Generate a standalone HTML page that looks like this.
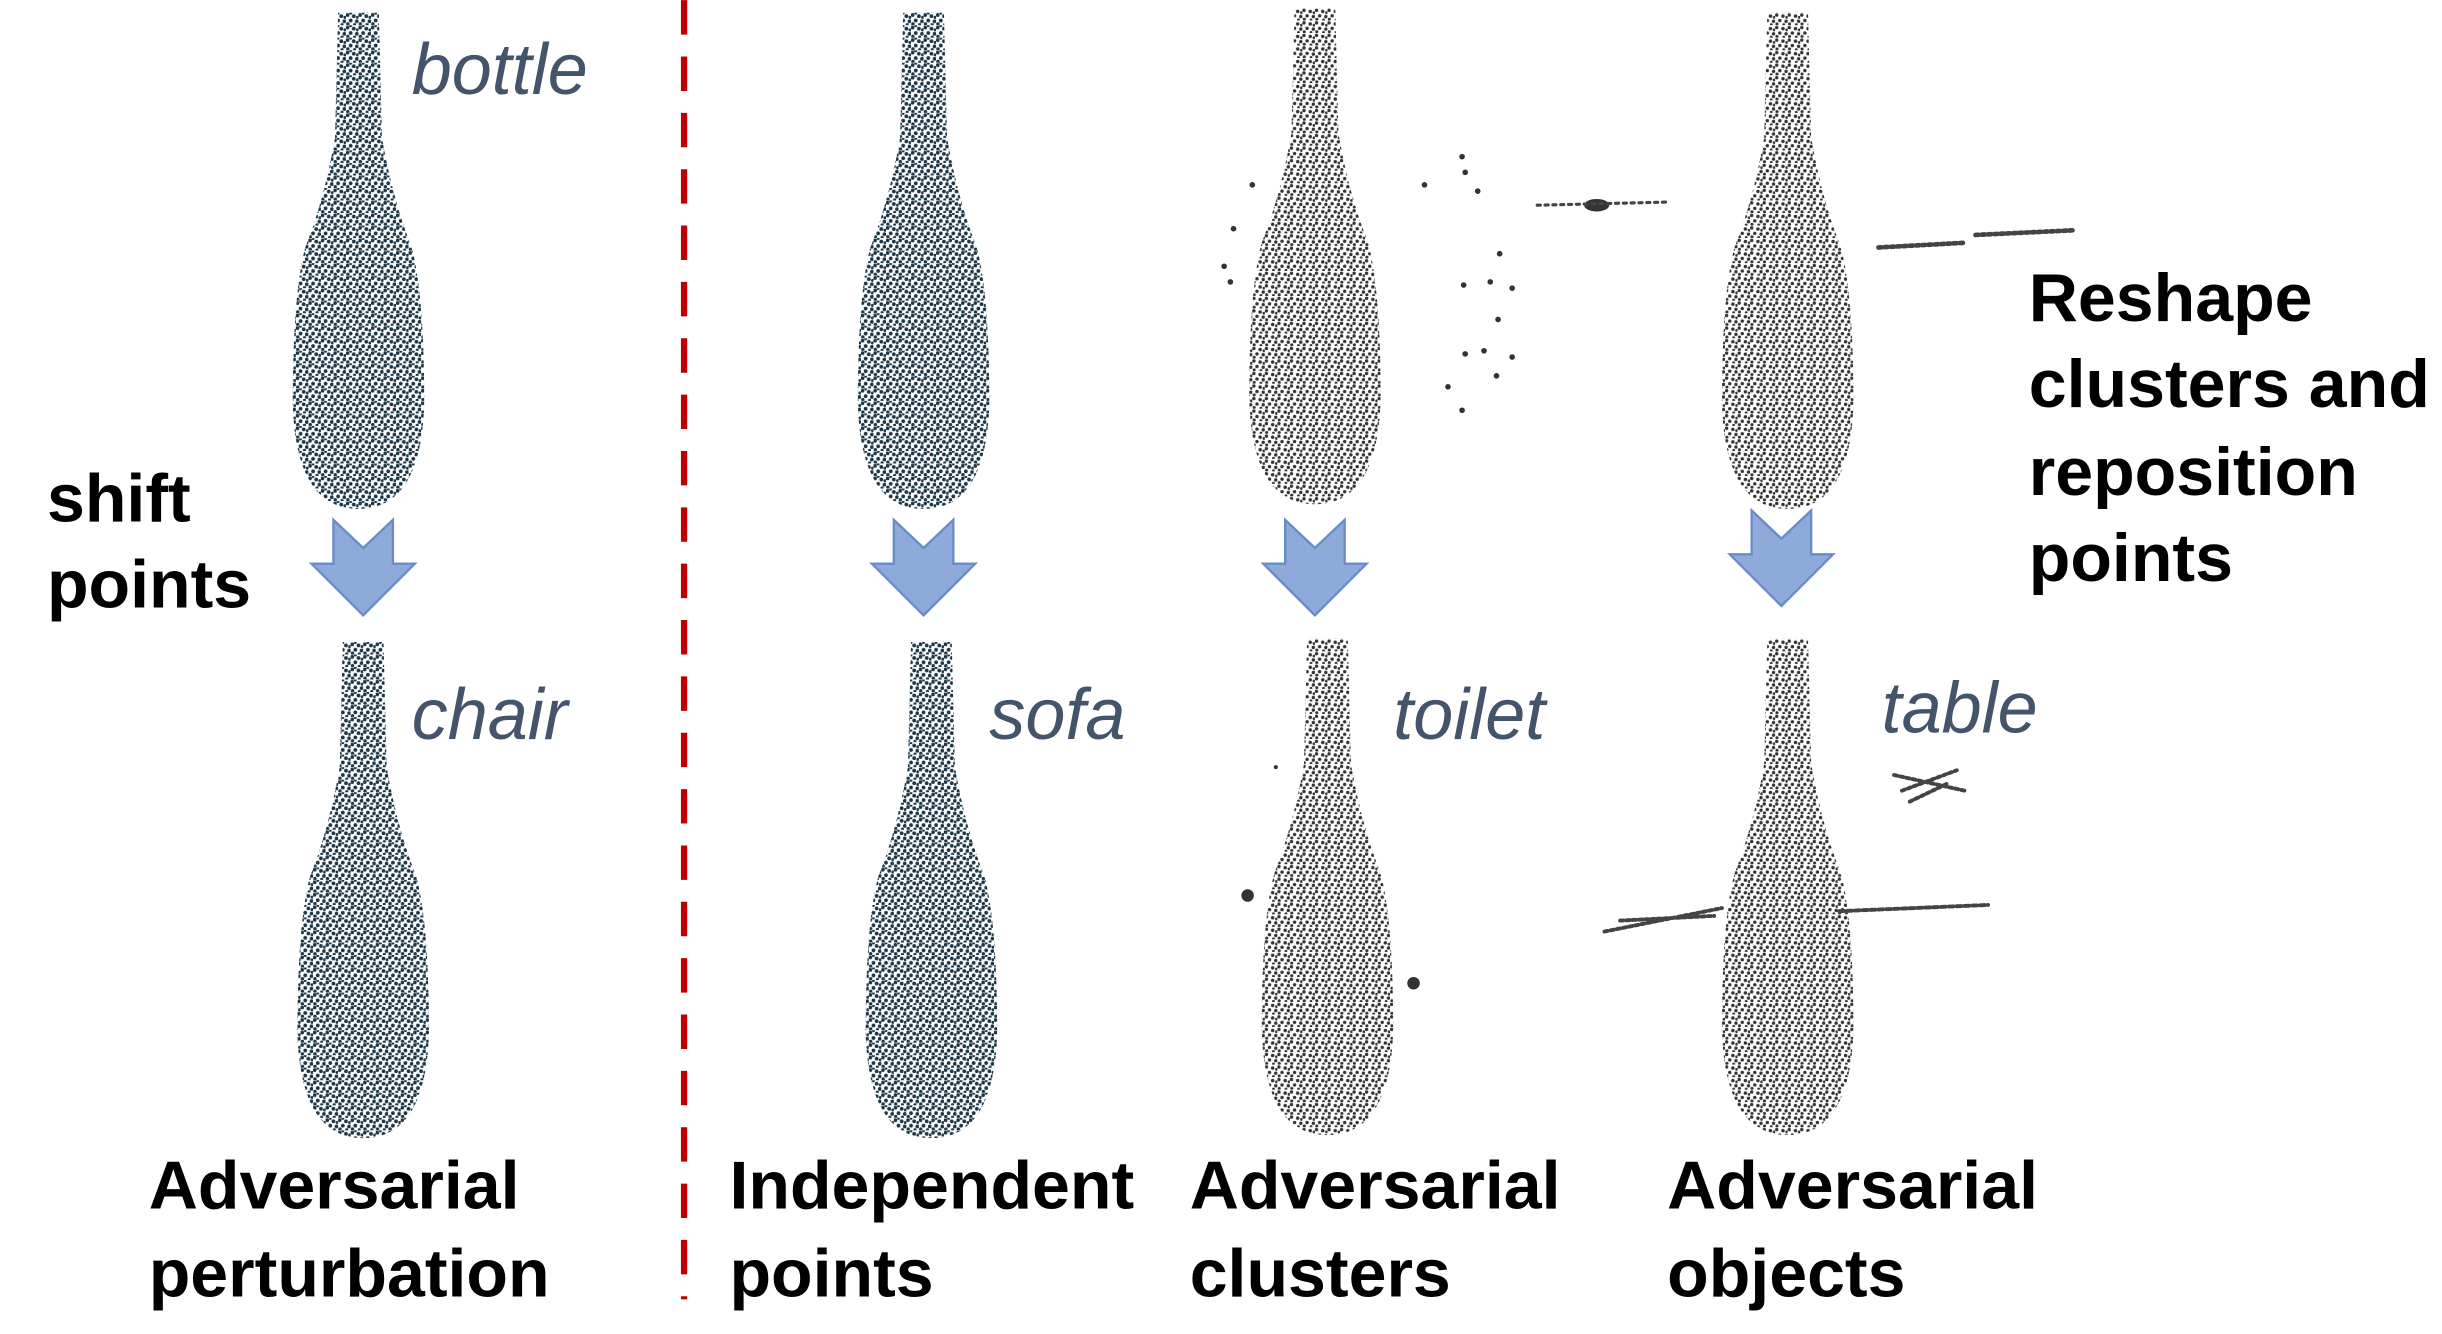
<!DOCTYPE html>
<html><head><meta charset="utf-8"><style>
html,body{margin:0;padding:0;background:#fff;}
svg{display:block;}
.lab{font-family:"Liberation Sans",sans-serif;font-style:italic;font-size:46px;fill:#44546a;}
.t{font-family:"Liberation Sans",sans-serif;font-weight:bold;font-size:43.5px;fill:#000;}
</style></head><body>
<svg width="2442" height="1334" viewBox="0 0 1560 852" xmlns="http://www.w3.org/2000/svg">
<defs>
<pattern id="pd" width="8" height="8" patternUnits="userSpaceOnUse">
<rect width="8" height="8" fill="#fff"/>
<circle cx="1" cy="1.5" r="1.2" fill="#1b3646"/><circle cx="5" cy="2.2" r="1.2" fill="#1b3646"/>
<circle cx="3" cy="5" r="1.2" fill="#1b3646"/><circle cx="7" cy="5.5" r="1.2" fill="#1b3646"/>
<circle cx="1.2" cy="7.2" r="1.1" fill="#1b3646"/><circle cx="5.5" cy="7.6" r="1" fill="#1b3646"/>
<circle cx="7.4" cy="3" r="1" fill="#1b3646"/><circle cx="3" cy="0.4" r="0.9" fill="#1b3646"/>
</pattern>
<pattern id="pg" width="8" height="8" patternUnits="userSpaceOnUse">
<rect width="8" height="8" fill="#fff"/>
<circle cx="1" cy="1.5" r="1.1" fill="#333"/><circle cx="5" cy="2.2" r="1.1" fill="#333"/>
<circle cx="3" cy="5" r="1.1" fill="#333"/><circle cx="7" cy="5.5" r="1.1" fill="#333"/>
<circle cx="1.2" cy="7.2" r="1" fill="#333"/><circle cx="5.5" cy="7.6" r="0.9" fill="#333"/>
<circle cx="7.4" cy="3" r="0.9" fill="#333"/>
</pattern>
<path id="b" d="M -13 0 L 13 0 L 15 80 Q 22 120 34 150 Q 42 180 42 250 Q 40 317 0 317 Q -40 317 -42 250 Q -42 180 -34 150 Q -22 120 -15 80 Z"/>
<path id="ar" d="M -19 0 L 0 18 L 19 0 L 19 28 L 33 28 L 0 61 L -33 28 L -19 28 Z" fill="#8eaadb" stroke="#6a8cc6" stroke-width="1.5"/>
</defs>
<line x1="437" y1="0" x2="437" y2="830" stroke="#c00000" stroke-width="4" stroke-dasharray="22,14"/>
<use href="#b" x="229" y="8" fill="url(#pd)"/>
<use href="#b" x="590" y="8" fill="url(#pd)"/>
<use href="#b" x="840" y="5" fill="url(#pg)"/>
<use href="#b" x="1142" y="8" fill="url(#pg)"/>
<use href="#b" x="232" y="410" fill="url(#pd)"/>
<use href="#b" x="595" y="410" fill="url(#pd)"/>
<use href="#b" x="848" y="408" fill="url(#pg)"/>
<use href="#b" x="1142" y="408" fill="url(#pg)"/>
<use href="#ar" x="232" y="332"/>
<use href="#ar" x="590" y="332"/>
<use href="#ar" x="840" y="332"/>
<use href="#ar" x="1138" y="326"/>
<g fill="#333">
<circle cx="910" cy="118" r="1.8"/><circle cx="934" cy="100" r="1.8"/><circle cx="936" cy="110" r="1.8"/><circle cx="944" cy="122" r="1.8"/>
<circle cx="958" cy="162" r="1.8"/><circle cx="935" cy="182" r="1.8"/><circle cx="952" cy="180" r="1.8"/><circle cx="966" cy="184" r="1.8"/>
<circle cx="957" cy="204" r="1.8"/><circle cx="948" cy="224" r="1.8"/><circle cx="936" cy="226" r="1.8"/><circle cx="966" cy="228" r="1.8"/>
<circle cx="925" cy="247" r="1.8"/><circle cx="956" cy="240" r="1.8"/><circle cx="934" cy="262" r="1.8"/>
<circle cx="788" cy="146" r="1.8"/><circle cx="782" cy="170" r="1.8"/><circle cx="786" cy="180" r="1.8"/><circle cx="800" cy="118" r="1.8"/>
<ellipse cx="1020" cy="131" rx="8" ry="4"/>
<circle cx="797" cy="572" r="4"/><circle cx="903" cy="628" r="4"/><circle cx="815" cy="490" r="1.3"/>
</g>
<g stroke="#444" fill="none" stroke-linecap="round">
<path d="M982 131 L1065 129" stroke-width="2" stroke-dasharray="2,3"/>
<path d="M1200 158 L1255 155 M1262 150 L1325 147" stroke-width="3" stroke-dasharray="2,2"/>
<path d="M1210 495 L1255 505 M1215 505 L1250 492 M1220 512 L1245 500" stroke-width="2.5" stroke-dasharray="2,2"/>
<path d="M1025 595 L1100 580 M1035 588 L1095 585" stroke-width="2.5" stroke-dasharray="2,2"/>
<path d="M1175 582 L1270 578" stroke-width="2.5" stroke-dasharray="3,2"/>
</g>
<text class="lab" x="263" y="60">bottle</text>
<text class="lab" x="263" y="472">chair</text>
<text class="lab" x="632" y="472">sofa</text>
<text class="lab" x="890" y="472">toilet</text>
<text class="lab" x="1202" y="468">table</text>
<text class="t" x="30" y="333">shift</text>
<text class="t" x="30" y="388">points</text>
<text class="t" x="1296" y="205">Reshape</text>
<text class="t" x="1296" y="260">clusters and</text>
<text class="t" x="1296" y="316">reposition</text>
<text class="t" x="1296" y="371">points</text>
<text class="t" x="95" y="772">Adversarial</text>
<text class="t" x="95" y="828">perturbation</text>
<text class="t" x="466" y="772">Independent</text>
<text class="t" x="466" y="828">points</text>
<text class="t" x="760" y="772">Adversarial</text>
<text class="t" x="760" y="828">clusters</text>
<text class="t" x="1065" y="772">Adversarial</text>
<text class="t" x="1065" y="828">objects</text>
</svg>
</body></html>
